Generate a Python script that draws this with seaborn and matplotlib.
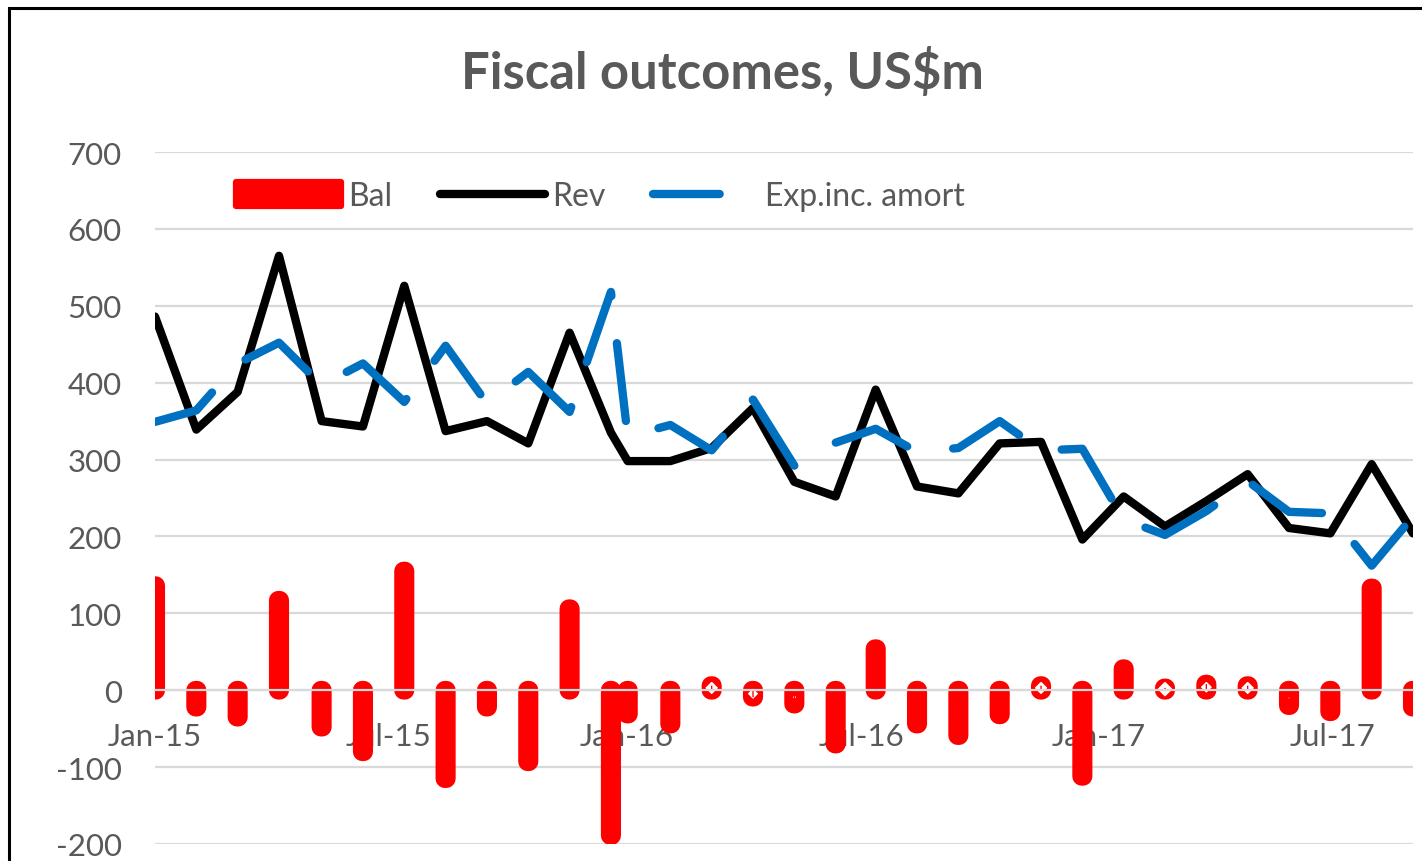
import pandas as pd
import numpy as np
import seaborn as sns
import matplotlib.pyplot as plt
import matplotlib.dates as mdates
from matplotlib.patches import Patch, Rectangle

# values, US$m
dates = ['2015-01-01', '2015-02-02', '2015-03-06', '2015-04-07', '2015-05-10', '2015-06-11',
         '2015-07-13', '2015-08-14', '2015-09-15', '2015-10-17', '2015-11-18', '2015-12-20',
         '2016-01-02', '2016-02-04', '2016-03-07', '2016-04-08', '2016-05-10', '2016-06-11',
         '2016-07-12', '2016-08-13', '2016-09-14', '2016-10-16', '2016-11-17', '2016-12-19',
         '2017-01-20', '2017-02-21', '2017-03-25', '2017-04-26', '2017-05-28', '2017-06-29',
         '2017-07-31', '2017-09-01']
bal = [136, -22, -35, 117, -48, -80, 155, -115, -22, -93, 106, -189,
       -31, -44, 6, -9, -18, -70, 54, -44, -59, -32, 6, -112,
       28, 3, 8, 6, -20, -28, 133, -22]
rev = [486, 339, 388, 565, 350, 343, 526, 337, 350, 321, 465, 335,
       298, 298, 315, 367, 271, 252, 391, 265, 256, 321, 323, 196,
       252, 213, 246, 281, 211, 204, 294, 204]
exp_amort = [349, 364, 425, 452, 397, 425, 375, 448, 373, 414, 362, 518,
             330, 345, 312, 378, 292, 322, 340, 310, 315, 350, 312, 314,
             222, 202, 233, 272, 232, 230, 162, 226]
x_start, x_end = '2015-01-01', '2017-09-01'
y_ticks = [-200, -100, 0, 100, 200, 300, 400, 500, 600, 700]

RED = '#ff0000'
BLUE = '#0070c0'
GREY_TXT = '#595959'
GRID = '#d9d9d9'

df = pd.DataFrame({'date': pd.to_datetime(dates), 'Bal': bal, 'Rev': rev, 'Exp': exp_amort})
df['x'] = mdates.date2num(df['date'])

sns.set_theme(style='white')
plt.rcParams['font.family'] = ['Lato', 'DejaVu Sans']
plt.rcParams['axes.unicode_minus'] = False

fig = plt.figure(figsize=(14.22, 8.62), dpi=100)
ax = fig.add_axes([155 / 1422, 1 - 845 / 862, 1258 / 1422, 692 / 862])

# bars: very narrow rectangles with a fat round-joined edge -> rounded "pill" bars
sns.barplot(data=df, x='x', y='Bal', native_scale=True, orient='x', width=0.08,
            color=RED, saturation=1, edgecolor=RED, linewidth=13.5,
            errorbar=None, ax=ax)
for p in ax.patches:
    p.set_joinstyle('round')
    p.set_snap(False)

sns.lineplot(data=df, x='x', y='Rev', color='black', linewidth=6,
             solid_capstyle='round', solid_joinstyle='round', ax=ax, label='Rev')
sns.lineplot(data=df, x='x', y='Exp', color=BLUE, linewidth=6,
             linestyle=(1.4, (9.4, 5.7)), dash_capstyle='round', dash_joinstyle='round',
             ax=ax, label='Exp.inc. amort')
if ax.get_legend() is not None:
    ax.get_legend().remove()

ax.set_xlim(mdates.date2num(pd.Timestamp(x_start)), mdates.date2num(pd.Timestamp(x_end)))
ax.set_ylim(-200, 700)
ax.set_yticks(y_ticks)
ax.xaxis.set_major_locator(mdates.MonthLocator(bymonth=[1, 7]))
ax.xaxis.set_major_formatter(mdates.DateFormatter('%b-%y'))
ax.set_xlabel('')
ax.set_ylabel('')

ax.yaxis.grid(True, color=GRID, linewidth=1.6)
ax.xaxis.grid(False)
for s in ['top', 'left', 'right']:
    ax.spines[s].set_visible(False)
ax.spines['bottom'].set_position(('data', 0))
ax.spines['bottom'].set_color(GRID)
ax.spines['bottom'].set_linewidth(1.6)

ax.tick_params(axis='x', which='major', direction='out', length=7, width=1.5,
               color='#bfbfbf', pad=16, labelsize=22.5, labelcolor=GREY_TXT)
ax.tick_params(axis='y', length=0, pad=24, labelsize=22.5, labelcolor=GREY_TXT)

line_rev = [l for l in ax.lines if l.get_label() == 'Rev'][0]
line_exp = [l for l in ax.lines if l.get_label() == 'Exp.inc. amort'][0]
bal_handle = Patch(facecolor=RED, edgecolor=RED, linewidth=4.5)
leg = fig.legend([bal_handle, line_rev, line_exp], ['Bal', 'Rev', 'Exp.inc. amort'],
                 loc='center left', bbox_to_anchor=(236 / 1422, 1 - 197 / 862), ncol=3,
                 frameon=False, fontsize=23, handlelength=3.3, handleheight=0.75,
                 handletextpad=0.2, columnspacing=1.5, borderpad=0, borderaxespad=0,
                 labelcolor=GREY_TXT)
for p in leg.get_patches():
    p.set_joinstyle('round')

fig.text(722 / 1422, 1 - 72 / 862, 'Fiscal outcomes, US\\$m', ha='center', va='center',
         fontsize=36.5, fontweight='bold', color=GREY_TXT)

# outer chart frame (right/bottom edges are cropped in the reference)
fig.add_artist(Rectangle((9 / 1422, -0.1), 1.2, 1.1 - 9 / 862, transform=fig.transFigure,
                         fill=False, edgecolor='black', linewidth=2.2))

fig.savefig('out.png', dpi=100)
